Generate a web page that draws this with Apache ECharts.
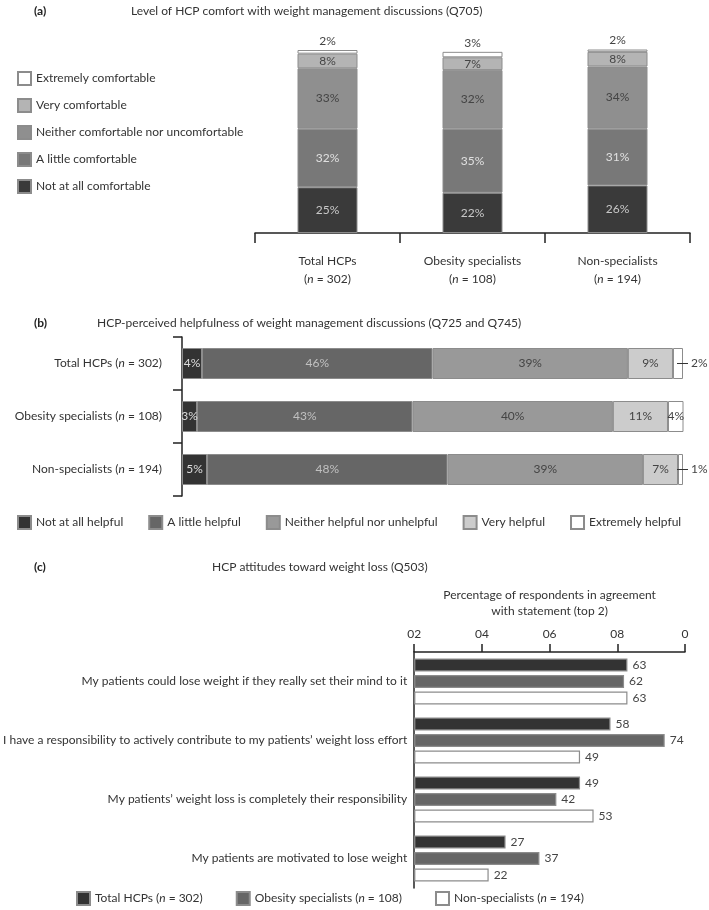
<!DOCTYPE html>
<html>
<head>
<meta charset="utf-8">
<script src="https://cdn.jsdelivr.net/npm/echarts@6/dist/echarts.min.js"></script>
<style>
html,body{margin:0;padding:0;background:#fff;}
#c{width:709px;height:910px;}
</style>
</head>
<body>
<div id="c"></div>
<script>
// ---------- Data ----------
const groups = ['Total HCPs', 'Obesity specialists', 'Non-specialists'];
const groupN = [302, 108, 194];

// Panel (a): comfort (bottom to top)
const namesA = ['Not at all comfortable', 'A little comfortable', 'Neither comfortable nor uncomfortable', 'Very comfortable', 'Extremely comfortable'];
const notAtAllA = [25, 22, 26];
const aLittleA = [32, 35, 31];
const neitherA = [33, 32, 34];
const veryA = [8, 7, 8];
const extremelyA = [2, 3, 2];

// Panel (b): helpfulness (left to right)
const namesB = ['Not at all helpful', 'A little helpful', 'Neither helpful nor unhelpful', 'Very helpful', 'Extremely helpful'];
const notAtAllB = [4, 3, 5];
const aLittleB = [46, 43, 48];
const neitherB = [39, 40, 39];
const veryB = [9, 11, 7];
const extremelyB = [2, 4, 1];

// Panel (c): attitudes
const statements = [
  'My patients could lose weight if they really set their mind to it',
  'I have a responsibility to actively contribute to my patients\u2019 weight loss effort',
  'My patients\u2019 weight loss is completely their responsibility',
  'My patients are motivated to lose weight'
];
const totalC = [63, 58, 49, 27];
const obesityC = [62, 74, 42, 37];
const nonSpecC = [63, 49, 53, 22];
const tickLabelsC = ['02', '04', '06', '08', '0'];
const axisTitleC = 'Percentage of respondents in agreement\nwith statement (top 2)';

// ---------- Styles ----------
const FONT = 'Lato';
const TXT = '#333';
const BORDER = '#8c8c8c';
const colorsA = ['#3a3a3a', '#787878', '#8f8f8f', '#b4b4b4', '#ffffff'];
const labelColorsA = ['#c8c8c8', '#e0e0e0', '#444', '#444', '#444'];
const colorsB = ['#333333', '#666666', '#999999', '#cccccc', '#ffffff'];
const labelColorsB = ['#dddddd', '#c0c0c0', '#444', '#444', '#444'];
const colorsC = ['#333333', '#666666', '#ffffff'];
const italicRich = { i: { fontStyle: 'italic', fontFamily: FONT, fontSize: 12, color: TXT } };
const ital = s => s.replace(/\bn =/g, '{i|n} =');

const groupLabels = groups.map((g, i) => g + ' (n = ' + groupN[i] + ')');
const namesC = groupLabels.slice();

const dataA = [notAtAllA, aLittleA, neitherA, veryA, extremelyA];
const dataB = [notAtAllB, aLittleB, neitherB, veryB, extremelyB];
const dataC = [totalC, obesityC, nonSpecC];

const series = [];
// Panel (a)
dataA.forEach((arr, k) => {
  series.push({
    name: namesA[k], type: 'bar', stack: 'a', xAxisIndex: 0, yAxisIndex: 0,
    barWidth: 60,
    itemStyle: { color: colorsA[k], borderColor: BORDER, borderWidth: 1 },
    label: {
      show: true,
      position: k === 4 ? 'top' : 'inside',
      distance: 3,
      color: labelColorsA[k], fontFamily: FONT, fontSize: 12,
      formatter: p => p.value + '%'
    },
    data: arr
  });
});
// Panel (b)
dataB.forEach((arr, k) => {
  series.push({
    name: namesB[k], type: 'bar', stack: 'b', xAxisIndex: 1, yAxisIndex: 1,
    barWidth: 31,
    itemStyle: { color: colorsB[k], borderColor: BORDER, borderWidth: 1 },
    label: {
      show: true, position: 'inside',
      color: labelColorsB[k], fontFamily: FONT, fontSize: 12,
      formatter: p => p.value + '%'
    },
    data: arr.map(v => {
      if (k === 4 && v <= 2) {
        return {
          value: v,
          label: {
            position: 'right', distance: 0, offset: [-6, 0],
            formatter: p => '{l| }{t|' + p.value + '%}',
            rich: {
              l: { width: 11, height: 1, backgroundColor: '#333', fontSize: 1, lineHeight: 1 },
              t: { padding: [0, 0, 0, 3], color: '#444', fontFamily: FONT, fontSize: 12 }
            }
          }
        };
      }
      return v;
    })
  });
});
// Panel (c)
dataC.forEach((arr, k) => {
  series.push({
    name: namesC[k], type: 'bar', xAxisIndex: 2, yAxisIndex: 2,
    barWidth: 13, barGap: '27%',
    itemStyle: { color: colorsC[k], borderColor: BORDER, borderWidth: 1.2 },
    label: { show: true, position: 'right', distance: 5, color: '#444', fontFamily: FONT, fontSize: 12 },
    data: arr
  });
});

const legendBase = {
  icon: 'rect', itemWidth: 13, itemHeight: 13,
  textStyle: { fontFamily: FONT, fontSize: 12, color: TXT, rich: italicRich },
  selectedMode: false
};

const option = {
  animation: false,
  backgroundColor: '#fff',
  textStyle: { fontFamily: FONT },
  title: [
    { text: '(a)', left: 34, top: 5, padding: 0, textStyle: { fontFamily: FONT, fontSize: 12, fontWeight: 'bold', color: '#222' } },
    { text: 'Level of HCP comfort with weight management discussions (Q705)', left: 131, top: 5, padding: 0, textStyle: { fontFamily: FONT, fontSize: 12, fontWeight: 'normal', color: TXT } },
    { text: '(b)', left: 34, top: 317, padding: 0, textStyle: { fontFamily: FONT, fontSize: 12, fontWeight: 'bold', color: '#222' } },
    { text: 'HCP-perceived helpfulness of weight management discussions (Q725 and Q745)', left: 97, top: 317, padding: 0, textStyle: { fontFamily: FONT, fontSize: 12, fontWeight: 'normal', color: TXT } },
    { text: '(c)', left: 34, top: 561, padding: 0, textStyle: { fontFamily: FONT, fontSize: 12, fontWeight: 'bold', color: '#222' } },
    { text: 'HCP attitudes toward weight loss (Q503)', left: 212, top: 561, padding: 0, textStyle: { fontFamily: FONT, fontSize: 12, fontWeight: 'normal', color: TXT } }
  ],
  legend: [
    Object.assign({}, legendBase, {
      orient: 'vertical', left: 17, top: 71, itemGap: 12, padding: 0,
      data: namesA.slice().reverse()
    }),
    Object.assign({}, legendBase, {
      orient: 'horizontal', left: 17, top: 515, itemGap: 25, padding: 0,
      data: namesB.slice()
    }),
    Object.assign({}, legendBase, {
      orient: 'horizontal', left: 76, top: 891, itemGap: 33, padding: 0,
      formatter: name => ital(name),
      data: namesC.slice()
    })
  ],
  grid: [
    { left: 255, top: 50, width: 435, height: 183 },
    { left: 182, top: 337, width: 501, height: 159 },
    { left: 389, top: 652, width: 296, height: 236 }
  ],
  xAxis: [
    {
      gridIndex: 0, type: 'category', data: groups,
      axisLine: { lineStyle: { color: '#222', width: 1.5 } },
      axisTick: { show: true, length: 10, alignWithLabel: false, lineStyle: { color: '#222', width: 1.5 } },
      axisLabel: {
        margin: 19, lineHeight: 18, color: TXT, fontFamily: FONT, fontSize: 12, rich: italicRich,
        formatter: (v, i) => v + '\n({i|n} = ' + groupN[i] + ')'
      }
    },
    { gridIndex: 1, type: 'value', min: 0, max: 100, show: false },
    {
      gridIndex: 2, type: 'value', position: 'top', min: 0, max: 80, interval: 20,
      name: axisTitleC, nameLocation: 'middle', nameGap: 33,
      nameTextStyle: { fontFamily: FONT, fontSize: 12, color: TXT, lineHeight: 16 },
      axisLine: { show: true, lineStyle: { color: '#222', width: 1.5 } },
      axisTick: { show: true, length: 8, lineStyle: { color: '#222', width: 1.5 } },
      splitLine: { show: false },
      axisLabel: {
        margin: 12, color: TXT, fontFamily: FONT, fontSize: 12,
        formatter: v => tickLabelsC[Math.round(v / 20)]
      }
    }
  ],
  yAxis: [
    { gridIndex: 0, type: 'value', min: 0, max: 100, show: false },
    {
      gridIndex: 1, type: 'category', data: groupLabels, inverse: true,
      axisLine: { lineStyle: { color: '#222', width: 1.5 } },
      axisTick: { show: true, length: 9, lineStyle: { color: '#222', width: 1.5 } },
      axisLabel: { margin: 20, color: TXT, fontFamily: FONT, fontSize: 12, rich: italicRich, formatter: v => ital(v) }
    },
    {
      gridIndex: 2, type: 'category', data: statements, inverse: true,
      axisLine: { lineStyle: { color: '#222', width: 1.5 } },
      axisTick: { show: false },
      axisLabel: { margin: 7, color: TXT, fontFamily: FONT, fontSize: 12 }
    }
  ],
  series: series
};

const chart = echarts.init(document.getElementById('c'), null, { renderer: 'canvas' });
chart.setOption(option);
</script>
</body>
</html>
